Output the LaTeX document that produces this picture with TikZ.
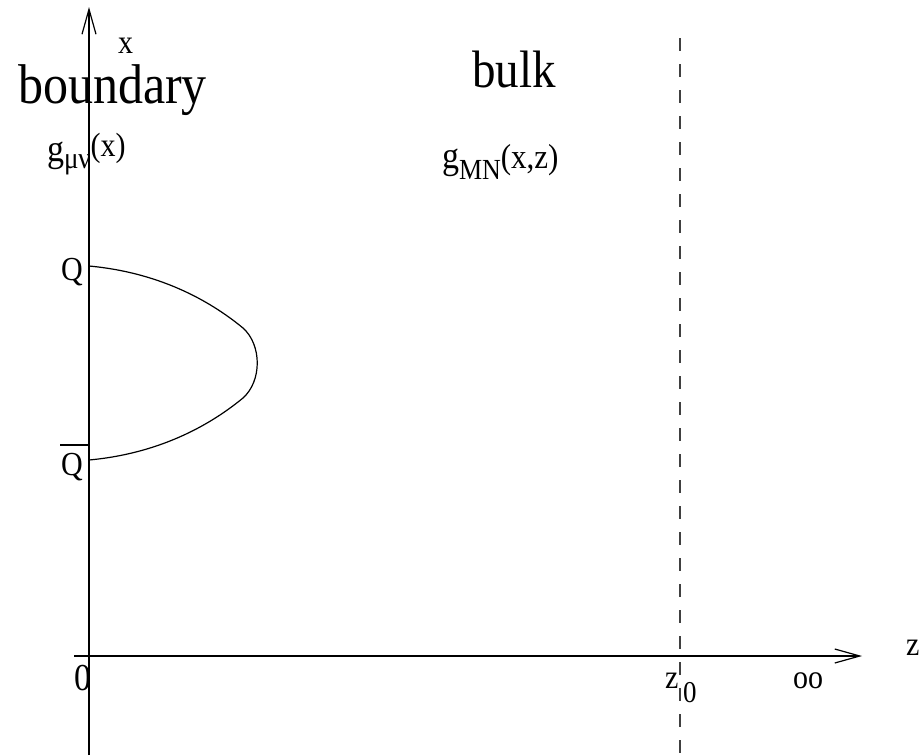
\documentclass[tikz,border=0pt]{standalone}
\usepackage{fontspec}
\setmainfont{Liberation Serif}
\usetikzlibrary{arrows.meta}
\newcommand{\tall}[1]{\scalebox{1}[1.12]{#1}}
\newcommand{\fsz}[1]{\fontsize{#1}{#1}\selectfont}
\begin{document}
\begin{tikzpicture}[x=1pt,y=-1pt,
 lbl/.style={inner sep=0pt,outer sep=0pt,anchor=base west},
 fs/.style={font=\fontsize{#1}{#1}\selectfont},
 axis/.style={line width=1.2pt,-{Straight Barb[length=25pt,width=14pt,line width=1.2pt]}},
 wall/.style={dash pattern=on 13pt off 13pt, line width=1.3pt, color=black!75},
 string/.style={line width=1.2pt}
]
\useasboundingbox[fill=white] (0,0) rectangle (920,755);
\coordinate (ybot) at (89,755);
\coordinate (ytop) at (89,7);
\coordinate (xl) at (74,656);
\coordinate (xr) at (862,656);
\coordinate (wtop) at (680,38);
\coordinate (wbot) at (680,755);
\draw[axis] (ybot) -- (ytop);
\draw[axis] (xl) -- (xr);
\draw[wall] (wtop) -- (wbot);
% Wilson loop string
\coordinate (q) at (89,266);
\coordinate (qb) at (89,460);
\draw[string] (q) .. controls (165,273) and (215,305) .. (243,328)
  .. controls (262,345) and (262,381) .. (243,398)
  .. controls (215,421) and (165,453) .. (qb);
% labels
\node[lbl,fs=30] (xlab) at (118,53) {\tall{x}};
\node[lbl,fs=50] (bnd) at (18,103) {\tall{boundary}};
\node[lbl,fs=47] (bulk) at (472,87) {\tall{bulk}};
\node[lbl,fs=34] (gmunu) at (47,161) {\tall{g\raisebox{-7pt}{\fsz{27}μν}\raisebox{4pt}{\fsz{30}(x)}}};
\node[lbl,fs=34] (gMN) at (442,168) {\tall{g\raisebox{-10pt}{\fsz{26}MN}\fsz{31}(x,z)}};
\node[lbl,fs=30] (Q) at (61,280) {\tall{Q}};
\node[lbl,fs=30] (Qbar) at (61,475) {\tall{Q}};
\draw[line width=1.2pt] (60,445) -- (89,445);
\node[lbl,fs=34] (zero) at (74,690) {\tall{0}};
\node[lbl,fs=30] (zz) at (665,688) {\tall{z}};
\node[lbl,fs=27] (zsub) at (683,702) {\tall{0}};
\node[lbl,fs=30] (inf) at (793,688) {\tall{oo}};
\node[lbl,fs=30] (zlab) at (906,655) {\tall{z}};
\end{tikzpicture}
\end{document}
